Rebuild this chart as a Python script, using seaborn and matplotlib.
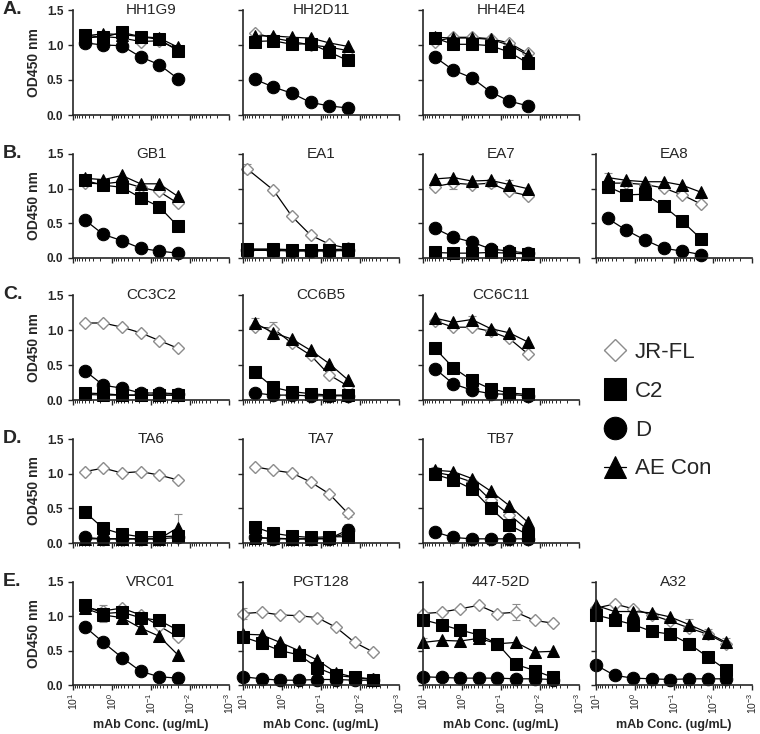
import matplotlib
matplotlib.use('Agg')
import matplotlib.pyplot as plt
import seaborn as sns
from matplotlib import ticker

# mAb concentrations (ug/mL), 3-fold dilutions
conc6 = [5.0, 1.667, 0.556, 0.185, 0.0617, 0.0206]
conc_ea1 = [8.0, 1.667, 0.556, 0.185, 0.0617, 0.0206]
conc8 = [10.0, 3.333, 1.111, 0.370, 0.123, 0.0412, 0.0137, 0.00457]

row_letters = ['A.', 'B.', 'C.', 'D.', 'E.']
layout = [
    ['HH1G9', 'HH2D11', 'HH4E4', None],
    ['GB1', 'EA1', 'EA7', 'EA8'],
    ['CC3C2', 'CC6B5', 'CC6C11', None],
    ['TA6', 'TA7', 'TB7', None],
    ['VRC01', 'PGT128', '447-52D', 'A32'],
]

jrfl = {
    'HH1G9': [1.10, 1.12, 1.10, 1.05, 1.06, 0.94],
    'HH2D11': [1.17, 1.10, 1.05, 1.00, 0.97, 0.92],
    'HH4E4': [1.05, 1.11, 1.11, 1.09, 1.03, 0.88],
    'GB1': [1.08, 1.07, 1.10, 1.02, 0.96, 0.79],
    'EA1': [1.29, 0.98, 0.60, 0.33, 0.20, 0.14],
    'EA7': [1.03, 1.08, 1.06, 1.08, 0.96, 0.90],
    'EA8': [1.08, 1.08, 1.06, 1.01, 0.91, 0.78],
    'CC3C2': [1.10, 1.10, 1.04, 0.96, 0.85, 0.74],
    'CC6B5': [1.05, 1.02, 0.81, 0.64, 0.36, 0.20],
    'CC6C11': [1.13, 1.04, 1.04, 0.98, 0.88, 0.66],
    'TA6': [1.03, 1.08, 1.01, 1.03, 0.98, 0.91],
    'TA7': [1.10, 1.05, 1.01, 0.88, 0.71, 0.43],
    'TB7': [1.02, 0.97, 0.88, 0.62, 0.41, 0.19],
    'VRC01': [1.13, 1.08, 1.12, 1.02, 0.86, 0.70],
    'PGT128': [1.04, 1.06, 1.02, 1.01, 0.98, 0.84, 0.62, 0.48],
    '447-52D': [1.04, 1.06, 1.11, 1.16, 1.04, 1.06, 0.94, 0.90],
    'A32': [1.12, 1.18, 1.11, 1.02, 0.93, 0.83, 0.74, 0.60],
}

c2 = {
    'HH1G9': [1.14, 1.11, 1.18, 1.12, 1.08, 0.92],
    'HH2D11': [1.05, 1.06, 1.01, 1.02, 0.90, 0.78],
    'HH4E4': [1.10, 1.01, 1.01, 0.99, 0.90, 0.74],
    'GB1': [1.12, 1.05, 1.02, 0.87, 0.74, 0.46],
    'EA1': [0.13, 0.13, 0.12, 0.12, 0.12, 0.13],
    'EA7': [0.08, 0.07, 0.07, 0.08, 0.07, 0.06],
    'EA8': [1.03, 0.91, 0.92, 0.75, 0.53, 0.28],
    'CC3C2': [0.10, 0.09, 0.07, 0.07, 0.07, 0.07],
    'CC6B5': [0.40, 0.18, 0.12, 0.09, 0.07, 0.07],
    'CC6C11': [0.74, 0.46, 0.28, 0.16, 0.10, 0.08],
    'TA6': [0.45, 0.21, 0.13, 0.09, 0.09, 0.10],
    'TA7': [0.23, 0.14, 0.10, 0.08, 0.09, 0.09],
    'TB7': [0.99, 0.91, 0.78, 0.50, 0.26, 0.12],
    'VRC01': [1.16, 1.04, 1.06, 0.98, 0.94, 0.80],
    'PGT128': [0.70, 0.61, 0.50, 0.44, 0.25, 0.14, 0.11, 0.08],
    '447-52D': [0.95, 0.88, 0.80, 0.73, 0.60, 0.30, 0.21, 0.11],
    'A32': [1.02, 0.95, 0.88, 0.78, 0.74, 0.60, 0.41, 0.22],
}

d = {
    'HH1G9': [1.03, 1.00, 0.99, 0.83, 0.72, 0.52],
    'HH2D11': [0.51, 0.40, 0.31, 0.18, 0.13, 0.10],
    'HH4E4': [0.83, 0.64, 0.53, 0.33, 0.20, 0.13],
    'GB1': [0.55, 0.34, 0.25, 0.14, 0.10, 0.07],
    'EA1': [0.11, 0.11, 0.10, 0.10, 0.10, 0.11],
    'EA7': [0.43, 0.30, 0.23, 0.13, 0.10, 0.07],
    'EA8': [0.57, 0.40, 0.26, 0.14, 0.10, 0.05],
    'CC3C2': [0.42, 0.21, 0.17, 0.10, 0.10, 0.09],
    'CC6B5': [0.10, 0.07, 0.07, 0.06, 0.06, 0.06],
    'CC6C11': [0.45, 0.23, 0.14, 0.09, 0.08, 0.06],
    'TA6': [0.08, 0.06, 0.06, 0.06, 0.06, 0.08],
    'TA7': [0.09, 0.06, 0.06, 0.06, 0.06, 0.19],
    'TB7': [0.16, 0.08, 0.06, 0.06, 0.06, 0.06],
    'VRC01': [0.85, 0.62, 0.40, 0.20, 0.12, 0.10],
    'PGT128': [0.12, 0.09, 0.07, 0.07, 0.08, 0.08, 0.07, 0.07],
    '447-52D': [0.12, 0.11, 0.10, 0.10, 0.10, 0.09, 0.09, 0.08],
    'A32': [0.29, 0.14, 0.10, 0.09, 0.08, 0.09, 0.09, 0.09],
}

aecon = {
    'HH1G9': [1.13, 1.16, 1.15, 1.12, 1.10, 0.97],
    'HH2D11': [1.13, 1.13, 1.11, 1.10, 1.03, 0.98],
    'HH4E4': [1.11, 1.10, 1.10, 1.08, 1.00, 0.86],
    'GB1': [1.15, 1.13, 1.19, 1.07, 1.07, 0.89],
    'EA1': [0.12, 0.12, 0.11, 0.11, 0.11, 0.12],
    'EA7': [1.14, 1.16, 1.11, 1.12, 1.06, 1.00],
    'EA8': [1.16, 1.12, 1.10, 1.10, 1.05, 0.95],
    'CC3C2': [0.08, 0.07, 0.07, 0.07, 0.07, 0.07],
    'CC6B5': [1.10, 0.96, 0.87, 0.71, 0.52, 0.29],
    'CC6C11': [1.17, 1.11, 1.15, 1.02, 0.96, 0.83],
    'TA6': [0.06, 0.06, 0.06, 0.06, 0.06, 0.22],
    'TA7': [0.07, 0.07, 0.06, 0.06, 0.07, 0.14],
    'TB7': [1.05, 1.03, 0.93, 0.75, 0.54, 0.30],
    'VRC01': [1.12, 1.02, 0.98, 0.83, 0.71, 0.44],
    'PGT128': [0.74, 0.73, 0.62, 0.50, 0.36, 0.18, 0.11, 0.09],
    '447-52D': [0.62, 0.65, 0.64, 0.68, 0.60, 0.62, 0.48, 0.49],
    'A32': [1.16, 1.07, 1.07, 1.05, 0.99, 0.88, 0.76, 0.62],
}

# visible error bars: (panel, series, point index, sd)
errors = [
    ('HH1G9', 'D', 5, 0.06), ('EA1', 'JR-FL', 0, 0.06),
    ('EA7', 'JR-FL', 1, 0.09), ('EA7', 'JR-FL', 3, 0.06), ('EA7', 'AE Con', 4, 0.07),
    ('EA8', 'AE Con', 0, 0.06), ('CC6B5', 'AE Con', 0, 0.07), ('CC6B5', 'JR-FL', 1, 0.10),
    ('CC6C11', 'AE Con', 2, 0.05), ('TA6', 'AE Con', 5, 0.20), ('TA7', 'JR-FL', 5, 0.05),
    ('TA7', 'D', 5, 0.08), ('TB7', 'AE Con', 0, 0.04), ('TB7', 'C2', 0, 0.05),
    ('VRC01', 'JR-FL', 0, 0.06), ('VRC01', 'C2', 1, 0.12), ('VRC01', 'C2', 3, 0.06),
    ('VRC01', 'C2', 5, 0.07), ('PGT128', 'JR-FL', 0, 0.08), ('447-52D', 'JR-FL', 5, 0.12),
    ('447-52D', 'AE Con', 0, 0.06), ('A32', 'AE Con', 5, 0.08), ('A32', 'JR-FL', 6, 0.07),
    ('A32', 'AE Con', 7, 0.06), ('A32', 'C2', 5, 0.08),
]

series = [('JR-FL', jrfl), ('AE Con', aecon), ('C2', c2), ('D', d)]
styles = {
    'JR-FL': dict(marker='D', markersize=6.5, markerfacecolor='white',
                  markeredgecolor='#8c8c8c', markeredgewidth=1.0),
    'C2': dict(marker='s', markersize=8.5, markerfacecolor='black', markeredgecolor='black'),
    'D': dict(marker='o', markersize=9, markerfacecolor='black', markeredgecolor='black'),
    'AE Con': dict(marker='^', markersize=9, markerfacecolor='black', markeredgecolor='black'),
}

sns.set_style('ticks')
plt.rcParams['font.family'] = ['Liberation Sans', 'DejaVu Sans']
plt.rcParams['mathtext.fontset'] = 'custom'
plt.rcParams['mathtext.rm'] = 'Liberation Sans:bold'
plt.rcParams['mathtext.bf'] = 'Liberation Sans:bold'
plt.rcParams['mathtext.default'] = 'bf'

W, H = 760, 734
fig = plt.figure(figsize=(7.6, 7.34), dpi=100)

row_top = [10, 154, 295, 439, 582]
row_bot = [115, 258, 400, 543, 685]
col_left = [73, 243, 423, 596]
col_w = 156

legend_ax = None
for r, row in enumerate(layout):
    fig.text(3 / W, 1 - (row_top[r] - 9) / H, row_letters[r], fontsize=14,
             fontweight='bold', va='top', ha='left')
    for c, name in enumerate(row):
        if name is None:
            continue
        ax_h = row_bot[r] - row_top[r]
        ax = fig.add_axes([col_left[c] / W, 1 - row_bot[r] / H,
                           col_w / W, ax_h / H])
        if name == 'EA1':
            xs = conc_ea1
        elif len(jrfl[name]) == 8:
            xs = conc8
        else:
            xs = conc6
        for label, data in series:
            sns.lineplot(x=xs, y=data[name], ax=ax, color='black', linewidth=0.9,
                         label=label, legend=False, zorder=2, clip_on=False,
                         **styles[label])
        for pname, sname, i, e in errors:
            if pname == name:
                vals = dict(series)[sname][name]
                ax.errorbar(xs[i], vals[i], yerr=e, fmt='none', ecolor='#8c8c8c',
                            elinewidth=0.8, capsize=3, capthick=0.8, zorder=1)
        if legend_ax is None:
            legend_ax = ax

        ax.set_xscale('log')
        ax.set_xlim(10, 0.001)
        ax.set_ylim(0, 1.5)
        ax.set_yticks([0, 0.5, 1.0, 1.5])
        ax.xaxis.set_major_locator(ticker.LogLocator(base=10, numticks=10))
        ax.xaxis.set_minor_locator(ticker.LogLocator(base=10, subs=range(2, 10), numticks=20))
        ax.tick_params(axis='both', which='major', length=3.5, width=1, labelsize=8.5)
        ax.tick_params(axis='x', which='minor', length=2, width=0.7)
        for s in ['left', 'bottom']:
            ax.spines[s].set_linewidth(1.2)
        sns.despine(ax=ax)
        ax.set_xlabel('')
        ax.set_ylabel('')
        ax.text(0.5, 1.0, name, transform=ax.transAxes, ha='center', va='center',
                fontsize=11)
        if c == 0:
            ax.yaxis.set_major_formatter(ticker.FormatStrFormatter('%.1f'))
            for t in ax.get_yticklabels():
                t.set_fontweight('bold')
            ax.set_ylabel('OD450 nm', fontsize=10, fontweight='bold', labelpad=4)
        else:
            ax.tick_params(axis='y', labelleft=False)
        if r == len(layout) - 1:
            ax.tick_params(axis='x', labelrotation=90, labelsize=7.5, pad=2)
            ax.set_xlabel('mAb Conc. (ug/mL)', fontsize=9, fontweight='bold')
            ax.xaxis.set_label_coords(0.5, -(725 - row_bot[r]) / ax_h)
            ax.xaxis.label.set_va('center')
        else:
            ax.tick_params(axis='x', labelbottom=False)

handles, labels = legend_ax.get_legend_handles_labels()
order = ['JR-FL', 'C2', 'D', 'AE Con']
hl = dict(zip(labels, handles))
fig.legend([hl[k] for k in order], order, loc='upper left',
           bbox_to_anchor=(584 / W, 1 - 322 / H), frameon=False, fontsize=16,
           markerscale=1.8, handlelength=1.0, handletextpad=0.4, labelspacing=0.8)

fig.savefig('out.png', dpi=100)
